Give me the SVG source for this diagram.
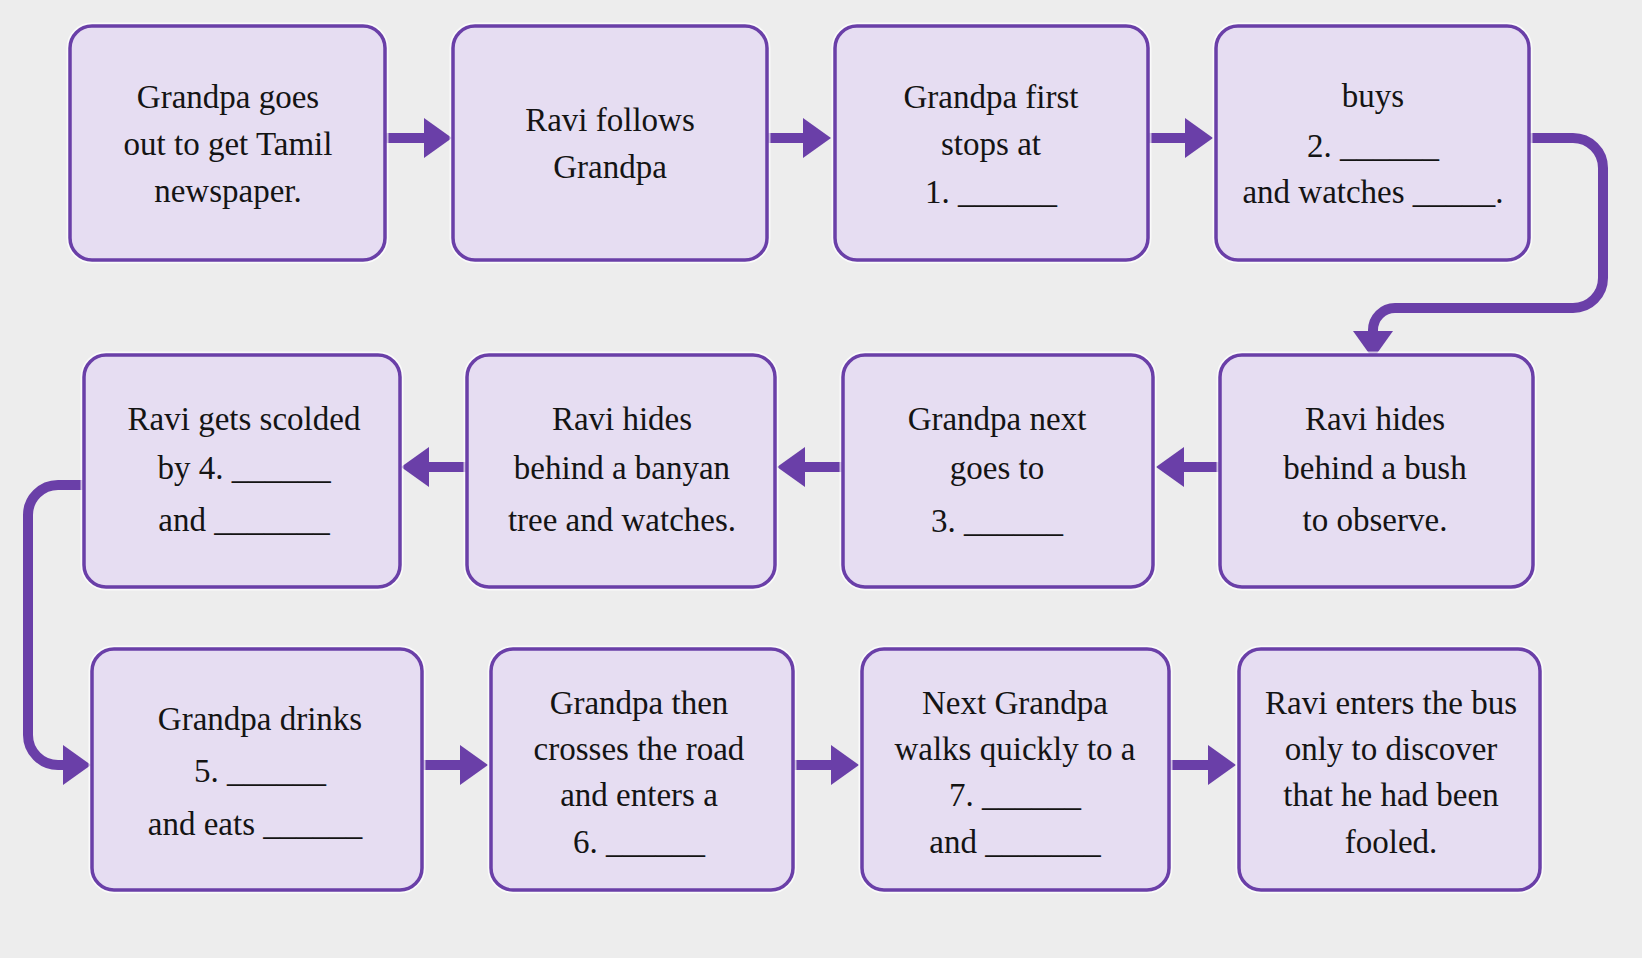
<svg xmlns="http://www.w3.org/2000/svg" width="1642" height="958" viewBox="0 0 1642 958">
<style>
.bg{fill:#ededed}
.box{fill:#e6ddf2;stroke:#6a3fa8;stroke-width:3.5}
.glow{fill:none;stroke:#ffffff;stroke-width:7;opacity:0.7}
.t{font-family:"Liberation Serif","Times New Roman",serif;font-size:33px;fill:#141414;text-anchor:middle}
.c{fill:none;stroke:#6a3fa8;stroke-width:10}
</style>
<defs>
<marker id="ah" markerUnits="userSpaceOnUse" markerWidth="28" markerHeight="40" refX="0" refY="20" orient="auto" viewBox="0 0 28 40">
<path d="M0,0 L28,20 L0,40 z" fill="#6a3fa8"/>
</marker>
</defs>
<rect class="bg" x="0" y="0" width="1642" height="958"/>

<g id="connectors">
<path class="c" d="M385 138 H424" marker-end="url(#ah)"/>
<path class="c" d="M767 138 H803" marker-end="url(#ah)"/>
<path class="c" d="M1148 138 H1185" marker-end="url(#ah)"/>
<path class="c" d="M1529 138 H1573 A30 30 0 0 1 1603 168 V278 A30 30 0 0 1 1573 308 H1395 A22 22 0 0 0 1373 330 V331" marker-end="url(#ah)"/>
<path class="c" d="M1220 467 H1184" marker-end="url(#ah)"/>
<path class="c" d="M843 467 H805" marker-end="url(#ah)"/>
<path class="c" d="M467 467 H429" marker-end="url(#ah)"/>
<path class="c" d="M84 485 H58 A30 30 0 0 0 28 515 V735 A30 30 0 0 0 58 765 H63" marker-end="url(#ah)"/>
<path class="c" d="M422 765 H460" marker-end="url(#ah)"/>
<path class="c" d="M793 765 H831" marker-end="url(#ah)"/>
<path class="c" d="M1169 765 H1208" marker-end="url(#ah)"/>
</g>

<g id="n1">
<rect class="glow" x="70" y="26" width="315" height="234" rx="22"/>
<rect class="box" x="70" y="26" width="315" height="234" rx="22"/>
<text class="t" x="228" y="108">Grandpa goes</text>
<text class="t" x="228" y="155">out to get Tamil</text>
<text class="t" x="228" y="202">newspaper.</text>
</g>
<g id="n2">
<rect class="glow" x="453" y="26" width="314" height="234" rx="22"/>
<rect class="box" x="453" y="26" width="314" height="234" rx="22"/>
<text class="t" x="610" y="131">Ravi follows</text>
<text class="t" x="610" y="178">Grandpa</text>
</g>
<g id="n3">
<rect class="glow" x="835" y="26" width="313" height="234" rx="22"/>
<rect class="box" x="835" y="26" width="313" height="234" rx="22"/>
<text class="t" x="991" y="108">Grandpa first</text>
<text class="t" x="991" y="155">stops at</text>
<text class="t" x="991" y="203">1. ______</text>
</g>
<g id="n4">
<rect class="glow" x="1216" y="26" width="313" height="234" rx="22"/>
<rect class="box" x="1216" y="26" width="313" height="234" rx="22"/>
<text class="t" x="1373" y="107">buys</text>
<text class="t" x="1373" y="157">2. ______</text>
<text class="t" x="1373" y="203">and watches _____.</text>
</g>
<g id="n5">
<rect class="glow" x="1220" y="355" width="313" height="232" rx="22"/>
<rect class="box" x="1220" y="355" width="313" height="232" rx="22"/>
<text class="t" x="1375" y="430">Ravi hides</text>
<text class="t" x="1375" y="479">behind a bush</text>
<text class="t" x="1375" y="531">to observe.</text>
</g>
<g id="n6">
<rect class="glow" x="843" y="355" width="310" height="232" rx="22"/>
<rect class="box" x="843" y="355" width="310" height="232" rx="22"/>
<text class="t" x="997" y="430">Grandpa next</text>
<text class="t" x="997" y="479">goes to</text>
<text class="t" x="997" y="532">3. ______</text>
</g>
<g id="n7">
<rect class="glow" x="467" y="355" width="308" height="232" rx="22"/>
<rect class="box" x="467" y="355" width="308" height="232" rx="22"/>
<text class="t" x="622" y="430">Ravi hides</text>
<text class="t" x="622" y="479">behind a banyan</text>
<text class="t" x="622" y="531">tree and watches.</text>
</g>
<g id="n8">
<rect class="glow" x="84" y="355" width="316" height="232" rx="22"/>
<rect class="box" x="84" y="355" width="316" height="232" rx="22"/>
<text class="t" x="244" y="430">Ravi gets scolded</text>
<text class="t" x="244" y="479">by 4. ______</text>
<text class="t" x="244" y="531">and _______</text>
</g>
<g id="n9">
<rect class="glow" x="92" y="649" width="330" height="241" rx="22"/>
<rect class="box" x="92" y="649" width="330" height="241" rx="22"/>
<text class="t" x="260" y="730">Grandpa drinks</text>
<text class="t" x="260" y="782">5. ______</text>
<text class="t" x="255" y="835">and eats ______</text>
</g>
<g id="n10">
<rect class="glow" x="491" y="649" width="302" height="241" rx="22"/>
<rect class="box" x="491" y="649" width="302" height="241" rx="22"/>
<text class="t" x="639" y="714">Grandpa then</text>
<text class="t" x="639" y="760">crosses the road</text>
<text class="t" x="639" y="806">and enters a</text>
<text class="t" x="639" y="853">6. ______</text>
</g>
<g id="n11">
<rect class="glow" x="862" y="649" width="307" height="241" rx="22"/>
<rect class="box" x="862" y="649" width="307" height="241" rx="22"/>
<text class="t" x="1015" y="714">Next Grandpa</text>
<text class="t" x="1015" y="760">walks quickly to a</text>
<text class="t" x="1015" y="806">7. ______</text>
<text class="t" x="1015" y="853">and _______</text>
</g>
<g id="n12">
<rect class="glow" x="1239" y="649" width="301" height="241" rx="22"/>
<rect class="box" x="1239" y="649" width="301" height="241" rx="22"/>
<text class="t" x="1391" y="714">Ravi enters the bus</text>
<text class="t" x="1391" y="760">only to discover</text>
<text class="t" x="1391" y="806">that he had been</text>
<text class="t" x="1391" y="853">fooled.</text>
</g>
</svg>
